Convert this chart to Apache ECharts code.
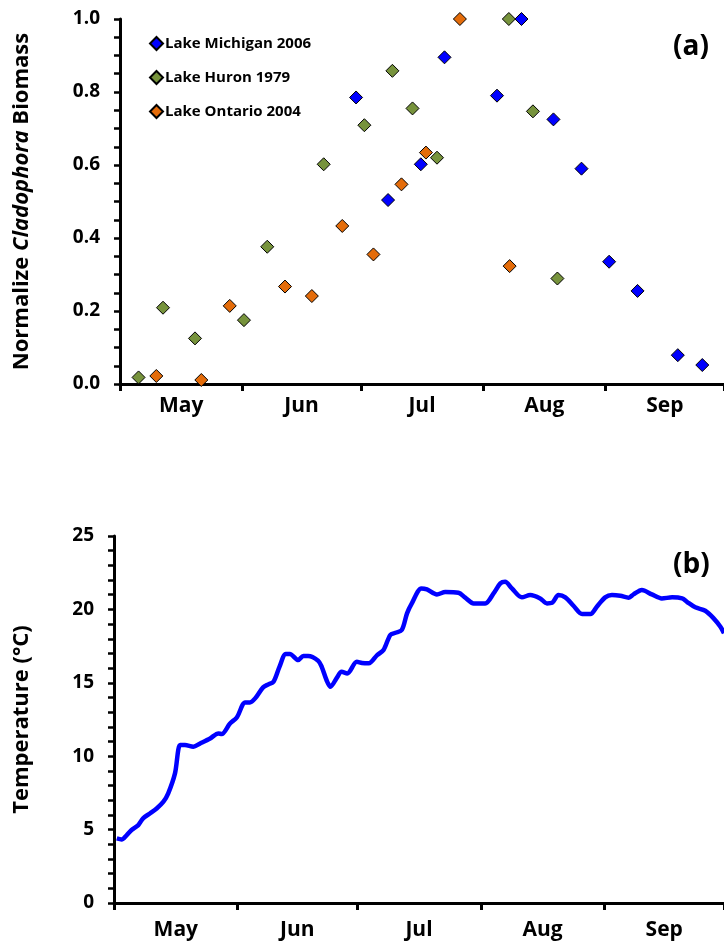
<!DOCTYPE html>
<html>
<head>
<meta charset="utf-8">
<script src="https://cdn.jsdelivr.net/npm/echarts@6/dist/echarts.min.js"></script>
<style>
  html, body { margin: 0; padding: 0; background: #fff; }
  #chart { width: 724px; height: 943px; }
</style>
</head>
<body>
<div id="chart"></div>
<script>
// x values are days since May 1
const monthStarts = [0, 31, 61, 92, 123, 153];
const monthNames = ['May', 'Jun', 'Jul', 'Aug', 'Sep'];

// (a) normalized Cladophora biomass
const michiganDays = [59.8, 67.9, 76.2, 82.2, 95.5, 101.7, 109.8, 116.9, 123.9, 131.1, 141.3, 147.5];
const michiganVals = [0.785, 0.504, 0.602, 0.895, 0.79, 1.0, 0.725, 0.59, 0.335, 0.255, 0.079, 0.052];

const huronDays = [4.7, 10.9, 19.0, 31.4, 37.3, 51.6, 61.9, 69.0, 74.1, 80.3, 98.5, 104.6, 110.8];
const huronVals = [0.018, 0.209, 0.125, 0.175, 0.376, 0.602, 0.709, 0.858, 0.755, 0.62, 1.0, 0.747, 0.289];

const ontarioDays = [9.2, 20.6, 27.8, 41.8, 48.6, 56.3, 64.2, 71.3, 77.5, 86.1, 98.7];
const ontarioVals = [0.022, 0.011, 0.214, 0.267, 0.241, 0.433, 0.355, 0.547, 0.634, 1.0, 0.323];

// (b) water temperature
const tempDays = [0.7, 1.9, 3.2, 4.4, 6.1, 7.3, 9.0, 10.7, 12.4, 13.6, 15.3, 16.6, 17.8, 19.9, 21.6,
  24.1, 26.2, 27.0, 29.1, 30.8, 32.9, 34.1, 35.4, 37.4, 38.7, 40.0, 41.5, 43.1, 44.1, 46.2,
  47.5, 48.7, 51.2, 52.1, 53.3, 54.3, 55.8, 57.1, 58.5, 60.9, 62.2, 63.9, 66.0, 67.6, 69.3,
  70.6, 72.2, 73.5, 74.7, 77.1, 78.5, 81.0, 83.1, 86.4, 88.1, 90.2, 93.1, 95.2, 96.9, 98.1,
  99.8, 102.3, 104.4, 106.9, 108.6, 109.9, 111.5, 113.2, 115.3, 117.4, 119.5, 121.1, 123.2, 124.9, 127.0,
  129.1, 130.3, 132.4, 134.9, 137.4, 140.0, 142.5, 143.7, 145.8, 148.3, 150.4, 152.1, 153.0];
const tempVals = [4.40, 4.33, 4.63, 4.97, 5.31, 5.77, 6.10, 6.44, 6.90, 7.47, 8.83, 10.76, 10.76, 10.65, 10.87,
  11.21, 11.55, 11.51, 12.23, 12.64, 13.66, 13.66, 13.94, 14.69, 14.89, 15.07, 16.09, 16.96, 16.96, 16.55,
  16.83, 16.83, 16.51, 16.09, 15.19, 14.73, 15.30, 15.75, 15.64, 16.43, 16.35, 16.33, 16.89, 17.23, 18.26,
  18.41, 18.60, 19.73, 20.41, 21.43, 21.36, 21.02, 21.18, 21.13, 20.80, 20.41, 20.41, 21.09, 21.77, 21.88,
  21.43, 20.82, 20.98, 20.75, 20.41, 20.45, 20.98, 20.82, 20.23, 19.69, 19.69, 20.18, 20.82, 20.98, 20.93,
  20.80, 21.02, 21.32, 21.02, 20.75, 20.82, 20.75, 20.52, 20.14, 19.91, 19.39, 18.82, 18.37];

const monthMids = monthNames.map((m, i) => (monthStarts[i] + monthStarts[i + 1]) / 2);
const zip = (xs, ys) => xs.map((x, i) => [x, ys[i]]);

const FONT = 'Open Sans';
const black = '#000';

function monthAxis(gridIndex, labelMargin) {
  return {
    gridIndex: gridIndex,
    type: 'value',
    min: 0,
    max: 153,
    axisLine: { onZero: false, lineStyle: { color: black, width: 3 } },
    axisTick: { customValues: monthStarts, length: 7, lineStyle: { color: black, width: 3 } },
    axisLabel: {
      customValues: monthMids,
      formatter: v => monthNames[monthMids.indexOf(v)] || '',
      color: black, fontFamily: FONT, fontWeight: 'bold', fontSize: 21, margin: labelMargin
    },
    splitLine: { show: false }
  };
}

function valueAxis(gridIndex, max, interval, minorSplit, name, nameGap, digits) {
  return {
    gridIndex: gridIndex,
    type: 'value',
    min: 0,
    max: max,
    interval: interval,
    name: name,
    nameLocation: 'middle',
    nameGap: nameGap,
    nameTextStyle: {
      color: black, fontFamily: FONT, fontWeight: 'bold', fontSize: 22,
      rich: {
        b: { color: black, fontFamily: FONT, fontWeight: 'bold', fontSize: 22 },
        i: { color: black, fontFamily: FONT, fontWeight: 'bold', fontStyle: 'italic', fontSize: 22 }
      }
    },
    axisLine: { show: true, lineStyle: { color: black, width: 3 } },
    axisTick: { show: true, length: 6, lineStyle: { color: black, width: 2.5 } },
    minorTick: { show: true, splitNumber: minorSplit, length: 6, lineStyle: { color: black, width: 2.5 } },
    axisLabel: {
      formatter: v => v.toFixed(digits),
      color: black, fontFamily: FONT, fontWeight: 'bold', fontSize: 19, margin: 20
    },
    splitLine: { show: false },
    minorSplitLine: { show: false }
  };
}

function diamonds(name, days, vals, color) {
  return {
    name: name,
    type: 'scatter',
    xAxisIndex: 0,
    yAxisIndex: 0,
    symbol: 'diamond',
    symbolSize: 13,
    clip: false,
    itemStyle: { color: color, opacity: 1, borderColor: black, borderWidth: 1 },
    data: zip(days, vals)
  };
}

const chart = echarts.init(document.getElementById('chart'));
chart.setOption({
  animation: false,
  backgroundColor: '#fff',
  title: [
    { text: '(a)', left: 668, top: 28, textStyle: { fontFamily: FONT, fontWeight: 'bold', fontSize: 28, color: black } },
    { text: '(b)', left: 668, top: 546, textStyle: { fontFamily: FONT, fontWeight: 'bold', fontSize: 28, color: black } }
  ],
  legend: {
    orient: 'vertical',
    left: 144,
    top: 31,
    itemWidth: 13,
    itemHeight: 13,
    itemGap: 19,
    textStyle: { fontFamily: FONT, fontWeight: 'bold', fontSize: 15, color: black, padding: [0, 0, 0, -3] },
    data: ['Lake Michigan 2006', 'Lake Huron 1979', 'Lake Ontario 2004']
  },
  grid: [
    { left: 120, top: 19, width: 604, height: 365 },
    { left: 114, top: 536, width: 610, height: 367 }
  ],
  xAxis: [monthAxis(0, 12), monthAxis(1, 17)],
  yAxis: [
    valueAxis(0, 1, 0.2, 4, '{b|Normalize }{i|Cladophora}{b| Biomass}', 87, 1),
    valueAxis(1, 25, 5, 5, 'Temperature (°C)', 81, 0)
  ],
  series: [
    diamonds('Lake Michigan 2006', michiganDays, michiganVals, '#0000FF'),
    diamonds('Lake Huron 1979', huronDays, huronVals, '#77933C'),
    diamonds('Lake Ontario 2004', ontarioDays, ontarioVals, '#E46C0A'),
    {
      name: 'Temperature',
      type: 'line',
      xAxisIndex: 1,
      yAxisIndex: 1,
      showSymbol: false,
      smooth: 0.3,
      lineStyle: { color: '#0000FF', width: 4.5 },
      data: zip(tempDays, tempVals)
    }
  ]
});
</script>
</body>
</html>
